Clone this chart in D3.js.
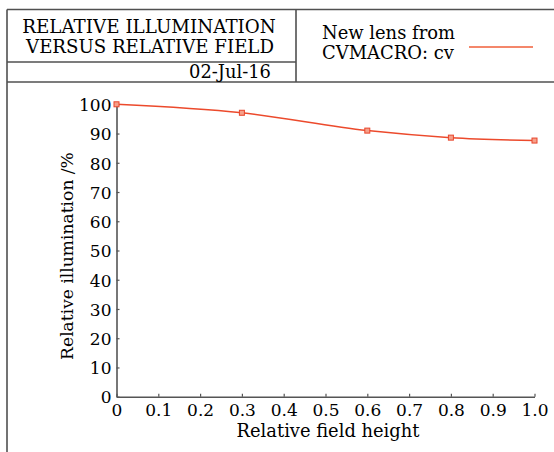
<!DOCTYPE html>
<html><head><meta charset="utf-8">
<script src="https://cdn.jsdelivr.net/npm/d3@7"></script>
<style>
html,body{margin:0;padding:0;background:#fff;}
svg{display:block;}
text{font-family:"DejaVu Serif",serif;fill:#000;}
</style></head>
<body>
<script>
// ---- data ----
const fieldHeight = [0, 0.3, 0.6, 0.8, 1.0];
const illumination = [100, 97.1, 91.0, 88.6, 87.6];
const xTicks = [0,0.1,0.2,0.3,0.4,0.5,0.6,0.7,0.8,0.9,1.0];
const xTickLabels = ["0","0.1","0.2","0.3","0.4","0.5","0.6","0.7","0.8","0.9","1.0"];
const yTicks = [0,10,20,30,40,50,60,70,80,90,100];
const titleLines = ["RELATIVE ILLUMINATION","VERSUS RELATIVE FIELD"];
const dateLabel = "02-Jul-16";
const legendLines = ["New lens from","CVMACRO: cv"];
const xTitle = "Relative field height";
const yTitle = "Relative illumination /%";

const W = 554, H = 452;
const svg = d3.select("body").append("svg").attr("width", W).attr("height", H);

const frame = "#505050";
// frame lines
const g0 = svg.append("g").attr("stroke", frame).attr("stroke-width", 1.6).attr("fill","none");
g0.append("line").attr("x1",7).attr("y1",9.5).attr("x2",W).attr("y2",9.5);
g0.append("line").attr("x1",7).attr("y1",9.5).attr("x2",7).attr("y2",H);
g0.append("line").attr("x1",296).attr("y1",9.5).attr("x2",296).attr("y2",82);
g0.append("line").attr("x1",7).attr("y1",62).attr("x2",296).attr("y2",62);
g0.append("line").attr("x1",7).attr("y1",82).attr("x2",W).attr("y2",82);

// helper: fit font size to a target width
function fit(sel, width) {
  sel.attr("font-size", 100);
  const w = sel.node().getComputedTextLength();
  sel.attr("font-size", (100 * width / w).toFixed(2));
  return sel;
}

fit(svg.append("text").attr("x",149).attr("y",33).attr("text-anchor","middle").text(titleLines[0]), 254);
fit(svg.append("text").attr("x",150).attr("y",53).attr("text-anchor","middle").text(titleLines[1]), 248);
fit(svg.append("text").attr("x",271).attr("y",78).attr("text-anchor","end").text(dateLabel), 82);
fit(svg.append("text").attr("x",322).attr("y",39).text(legendLines[0]), 133);
fit(svg.append("text").attr("x",322).attr("y",59).text(legendLines[1]), 132);
svg.append("line").attr("x1",469).attr("x2",533).attr("y1",47).attr("y2",47)
  .attr("stroke","#f4876b").attr("stroke-width",2);

// scales
const x = d3.scaleLinear().domain([0,1]).range([116.5,534.5]);
const y = d3.scaleLinear().domain([0,100]).range([396.7,104.3]);

const axisColor = "#555";
const tickFont = 17;
const gx = svg.append("g").attr("transform",`translate(0,${y(0)})`)
  .call(d3.axisBottom(x).tickValues(xTicks).tickFormat((d,i)=>xTickLabels[i])
        .tickSizeInner(-3).tickSizeOuter(0).tickPadding(7.5));
const gy = svg.append("g").attr("transform",`translate(${x(0)},0)`)
  .call(d3.axisLeft(y).tickValues(yTicks).tickFormat(d3.format("d"))
        .tickSizeInner(-3).tickSizeOuter(0).tickPadding(5));
[gx,gy].forEach(g=>{
  g.selectAll(".domain").attr("stroke",axisColor).attr("stroke-width",1.6);
  g.selectAll(".tick line").attr("stroke",axisColor).attr("stroke-width",1.2);
  g.selectAll("text").attr("font-family","DejaVu Serif").attr("font-size",tickFont).attr("fill","#000");
  g.attr("font-family", null).attr("font-size", null);
});
gy.selectAll("text").attr("dy","0.37em");

fit(svg.append("text").attr("x",328).attr("y",437).attr("text-anchor","middle").text(xTitle), 183);
fit(svg.append("text").attr("transform","translate(73,256) rotate(-90)").attr("text-anchor","middle").text(yTitle), 208);

// data line
const pts = fieldHeight.map((f,i)=>[f, illumination[i]]);
svg.append("path").datum(pts)
  .attr("fill","none").attr("stroke","#ec4a2c").attr("stroke-width",1.5)
  .attr("d", d3.line().x(d=>x(d[0])).y(d=>y(d[1])).curve(d3.curveMonotoneX));
svg.append("g").selectAll("rect").data(pts).join("rect")
  .attr("x",d=>x(d[0])-2.5).attr("y",d=>y(d[1])-2.5).attr("width",5).attr("height",5)
  .attr("fill","#f6a08a").attr("stroke","#e8452b").attr("stroke-width",1);
</script>
</body></html>
